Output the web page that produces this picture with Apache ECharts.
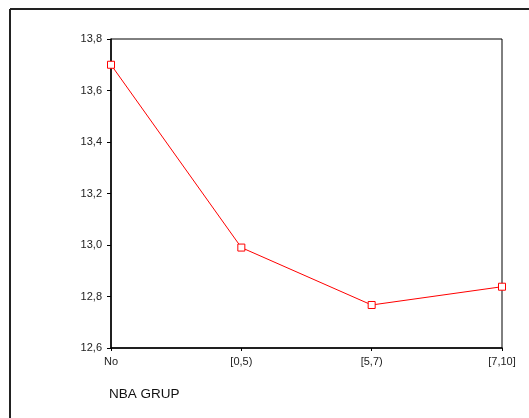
<!DOCTYPE html>
<html>
<head>
<meta charset="utf-8">
<script src="https://cdn.jsdelivr.net/npm/echarts@6/dist/echarts.min.js"></script>
<style>html,body{margin:0;padding:0;background:#fff;}#c{width:529px;height:418px;}</style>
</head>
<body>
<div id="c"></div>
<script>
var categories = ['No', '[0,5)', '[5,7)', '[7,10]'];
var values = [13.70, 12.99, 12.767, 12.838];
var yMin = 12.6, yMax = 13.8, yStep = 0.2;
var xTitle = 'NBA GRUP';

var chart = echarts.init(document.getElementById('c'), null, {renderer: 'canvas'});
var font = 'Liberation Sans, Arial, sans-serif';
chart.setOption({
  animation: false,
  backgroundColor: '#fff',
  grid: {left: 111, top: 39, width: 391, height: 309, show: true, borderColor: '#000', borderWidth: 1, backgroundColor: 'transparent'},
  xAxis: {
    type: 'category', data: categories, boundaryGap: false,
    axisLine: {lineStyle: {color: '#000', width: 1.5}},
    axisTick: {show: true, length: 3, alignWithLabel: true, lineStyle: {color: '#000'}},
    axisLabel: {color: '#222', fontFamily: font, fontSize: 11, margin: 8},
    splitLine: {show: false}
  },
  yAxis: {
    type: 'value', min: yMin, max: yMax, interval: yStep,
    axisLine: {show: true, lineStyle: {color: '#000', width: 1.5}},
    axisTick: {show: true, length: 4, lineStyle: {color: '#000'}},
    axisLabel: {color: '#222', fontFamily: font, fontSize: 11, margin: 9,
      formatter: function (v) { return v.toFixed(1).replace('.', ','); }},
    splitLine: {show: false}
  },
  series: [{
    type: 'line', data: values,
    symbol: 'rect', symbolSize: 7, showAllSymbol: true,
    itemStyle: {color: '#fff', borderColor: '#ff0000', borderWidth: 1},
    lineStyle: {color: '#ff0000', width: 1},
    z: 3
  }],
  graphic: [
    {type: 'line', shape: {x1: 10, y1: 9, x2: 529, y2: 9}, style: {stroke: '#222', lineWidth: 2}},
    {type: 'line', shape: {x1: 10, y1: 9, x2: 10, y2: 418}, style: {stroke: '#222', lineWidth: 2}},
    {type: 'text', left: 109, top: 387, style: {text: xTitle, fill: '#111', font: '13.5px Liberation Sans, Arial, sans-serif'}}
  ]
});
</script>
</body>
</html>
